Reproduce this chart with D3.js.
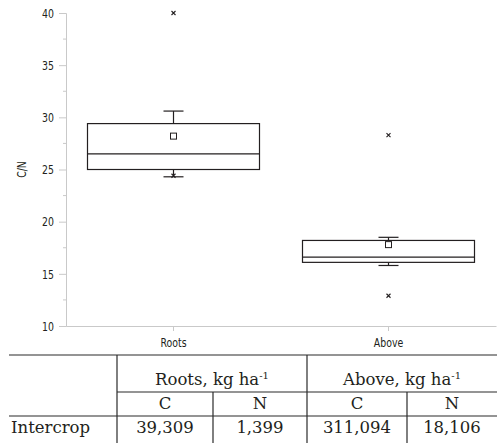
<!DOCTYPE html>
<html>
<head>
<meta charset="utf-8">
<script src="https://cdn.jsdelivr.net/npm/d3@7"></script>
<style>
  html, body { margin: 0; padding: 0; background: #fff; }
  svg { display: block; }
</style>
</head>
<body>
<div id="chart"></div>
<script>
// box plot values (C/N)
const categories = ['Roots', 'Above'];
const whiskerLow = [24.3, 15.8];
const q1 = [25.0, 16.1];
const median = [26.5, 16.6];
const q3 = [29.4, 18.2];
const whiskerHigh = [30.6, 18.5];
const means = [28.2, 17.8];
const outliers = [[40.0, 24.4], [28.3, 12.9]];
const yTicks = [10, 15, 20, 25, 30, 35, 40];

// table under the chart
const groupHeaders = ['Roots, kg ha', 'Above, kg ha'];
const subHeaders = ['C', 'N', 'C', 'N'];
const rowLabel = 'Intercrop';
const rowValues = ['39,309', '1,399', '311,094', '18,106'];

const width = 497, height = 445;
const margin = { top: 13, right: 1, left: 66, plotBottom: 326 };
const axisColor = '#c9c9c9';
const ink = '#231f20';
const sansFont = '"DejaVu Sans Condensed", "DejaVu Sans", sans-serif';
const serifFont = '"DejaVu Serif", "Liberation Serif", serif';

// squeeze text horizontally to mimic a condensed face
function condense(sel, k) {
  sel.each(function () {
    const len = this.getComputedTextLength();
    d3.select(this)
      .attr('textLength', len * k)
      .attr('lengthAdjust', 'spacingAndGlyphs');
  });
}

const svg = d3.select('#chart')
  .append('svg')
  .attr('width', width)
  .attr('height', height);

const x = d3.scaleBand()
  .domain(categories)
  .range([margin.left, width - margin.right])
  .padding(0);

const y = d3.scaleLinear()
  .domain([10, 40])
  .range([margin.plotBottom, margin.top]);

// Y axis
const yAxis = svg.append('g')
  .attr('transform', `translate(${margin.left},0)`)
  .call(d3.axisLeft(y).tickValues(yTicks).tickSize(7).tickPadding(5));
yAxis.select('.domain').attr('stroke', axisColor);
yAxis.selectAll('.tick line').attr('stroke', axisColor);
yAxis.selectAll('.tick text')
  .attr('fill', ink)
  .style('font-family', sansFont)
  .style('font-size', '13px')
  .call(condense, 0.8);

// minor ticks
svg.append('g')
  .selectAll('line')
  .data(d3.range(12.5, 40, 5))
  .join('line')
  .attr('x1', margin.left - 3)
  .attr('x2', margin.left)
  .attr('y1', d => y(d))
  .attr('y2', d => y(d))
  .attr('stroke', axisColor);

// X axis
const xAxis = svg.append('g')
  .attr('transform', `translate(0,${margin.plotBottom})`)
  .call(d3.axisBottom(x).tickSize(5).tickPadding(7).tickSizeOuter(0));
xAxis.select('.domain').attr('stroke', axisColor);
xAxis.selectAll('.tick line').attr('stroke', axisColor);
xAxis.selectAll('.tick text')
  .attr('fill', ink)
  .style('font-family', sansFont)
  .style('font-size', '13px')
  .call(condense, 0.8);

// Y label
svg.append('text')
  .attr('transform', `translate(26,${(margin.top + margin.plotBottom) / 2}) rotate(-90)`)
  .attr('text-anchor', 'middle')
  .attr('fill', ink)
  .style('font-family', sansFont)
  .style('font-size', '13px')
  .text('C/N')
  .call(condense, 0.8);

// Boxes
const boxW = x.bandwidth() * 0.8;
const capW = 20;
const boxes = svg.append('g')
  .selectAll('g')
  .data(categories)
  .join('g')
  .attr('transform', d => `translate(${x(d) + x.bandwidth() / 2},0)`);

boxes.each(function (d, i) {
  const g = d3.select(this);
  // whiskers
  g.append('line')
    .attr('y1', y(q3[i])).attr('y2', y(whiskerHigh[i]))
    .attr('stroke', ink).attr('stroke-width', 1.2);
  g.append('line')
    .attr('y1', y(q1[i])).attr('y2', y(whiskerLow[i]))
    .attr('stroke', ink).attr('stroke-width', 1.2);
  g.append('line')
    .attr('x1', -capW / 2).attr('x2', capW / 2)
    .attr('y1', y(whiskerHigh[i])).attr('y2', y(whiskerHigh[i]))
    .attr('stroke', ink).attr('stroke-width', 1.2);
  g.append('line')
    .attr('x1', -capW / 2).attr('x2', capW / 2)
    .attr('y1', y(whiskerLow[i])).attr('y2', y(whiskerLow[i]))
    .attr('stroke', ink).attr('stroke-width', 1.2);
  // box
  g.append('rect')
    .attr('x', -boxW / 2)
    .attr('width', boxW)
    .attr('y', y(q3[i]))
    .attr('height', y(q1[i]) - y(q3[i]))
    .attr('fill', 'none')
    .attr('stroke', ink)
    .attr('stroke-width', 1.2);
  g.append('line')
    .attr('x1', -boxW / 2).attr('x2', boxW / 2)
    .attr('y1', y(median[i])).attr('y2', y(median[i]))
    .attr('stroke', ink).attr('stroke-width', 1.2);
  // mean
  g.append('rect')
    .attr('x', -3).attr('width', 6)
    .attr('y', y(means[i]) - 3).attr('height', 6)
    .attr('fill', '#fff')
    .attr('stroke', ink)
    .attr('stroke-width', 1);
  // outliers
  g.selectAll('path.out')
    .data(outliers[i])
    .join('path')
    .attr('class', 'out')
    .attr('d', v => `M-2,${y(v) - 2}L2,${y(v) + 2}M-2,${y(v) + 2}L2,${y(v) - 2}`)
    .attr('stroke', ink)
    .attr('stroke-width', 1.1);
});

// Table
const colX = [9, 117, 213, 307, 407, 497];
const rowY = [355, 392, 416, 445];
const table = svg.append('g').style('font-family', serifFont).attr('fill', ink);
const lineColor = '#2a2a2a';
const fs = '16.5px';

table.append('line')
  .attr('x1', colX[0]).attr('x2', width)
  .attr('y1', rowY[0]).attr('y2', rowY[0])
  .attr('stroke', lineColor).attr('stroke-width', 1.2);
table.append('line')
  .attr('x1', colX[1]).attr('x2', width)
  .attr('y1', rowY[1]).attr('y2', rowY[1])
  .attr('stroke', lineColor).attr('stroke-width', 1.2);
table.append('line')
  .attr('x1', colX[0]).attr('x2', width)
  .attr('y1', rowY[2]).attr('y2', rowY[2])
  .attr('stroke', lineColor).attr('stroke-width', 1.2);

// vertical rules
[[colX[1], rowY[0]], [colX[3], rowY[0]], [colX[2], rowY[1]], [colX[4], rowY[1]]]
  .forEach(([cx, top]) => {
    table.append('line')
      .attr('x1', cx).attr('x2', cx)
      .attr('y1', top).attr('y2', rowY[3] - 2)
      .attr('stroke', lineColor).attr('stroke-width', 1.2);
  });

// group headers
groupHeaders.forEach((h, i) => {
  const cx = (colX[1 + i * 2] + colX[3 + i * 2]) / 2;
  const t = table.append('text')
    .attr('x', cx)
    .attr('y', 385)
    .attr('text-anchor', 'middle')
    .style('font-size', fs);
  t.append('tspan').text(h);
  t.append('tspan')
    .attr('dy', -6)
    .style('font-size', '10px')
    .text('-1');
});

// sub headers
subHeaders.forEach((h, i) => {
  table.append('text')
    .attr('x', (colX[1 + i] + colX[2 + i]) / 2)
    .attr('y', 409)
    .attr('text-anchor', 'middle')
    .style('font-size', fs)
    .text(h);
});

// data row
table.append('text')
  .attr('x', 11)
  .attr('y', 433)
  .style('font-size', fs)
  .text(rowLabel);
rowValues.forEach((v, i) => {
  table.append('text')
    .attr('x', (colX[1 + i] + colX[2 + i]) / 2)
    .attr('y', 433)
    .attr('text-anchor', 'middle')
    .style('font-size', fs)
    .text(v);
});
</script>
</body>
</html>
